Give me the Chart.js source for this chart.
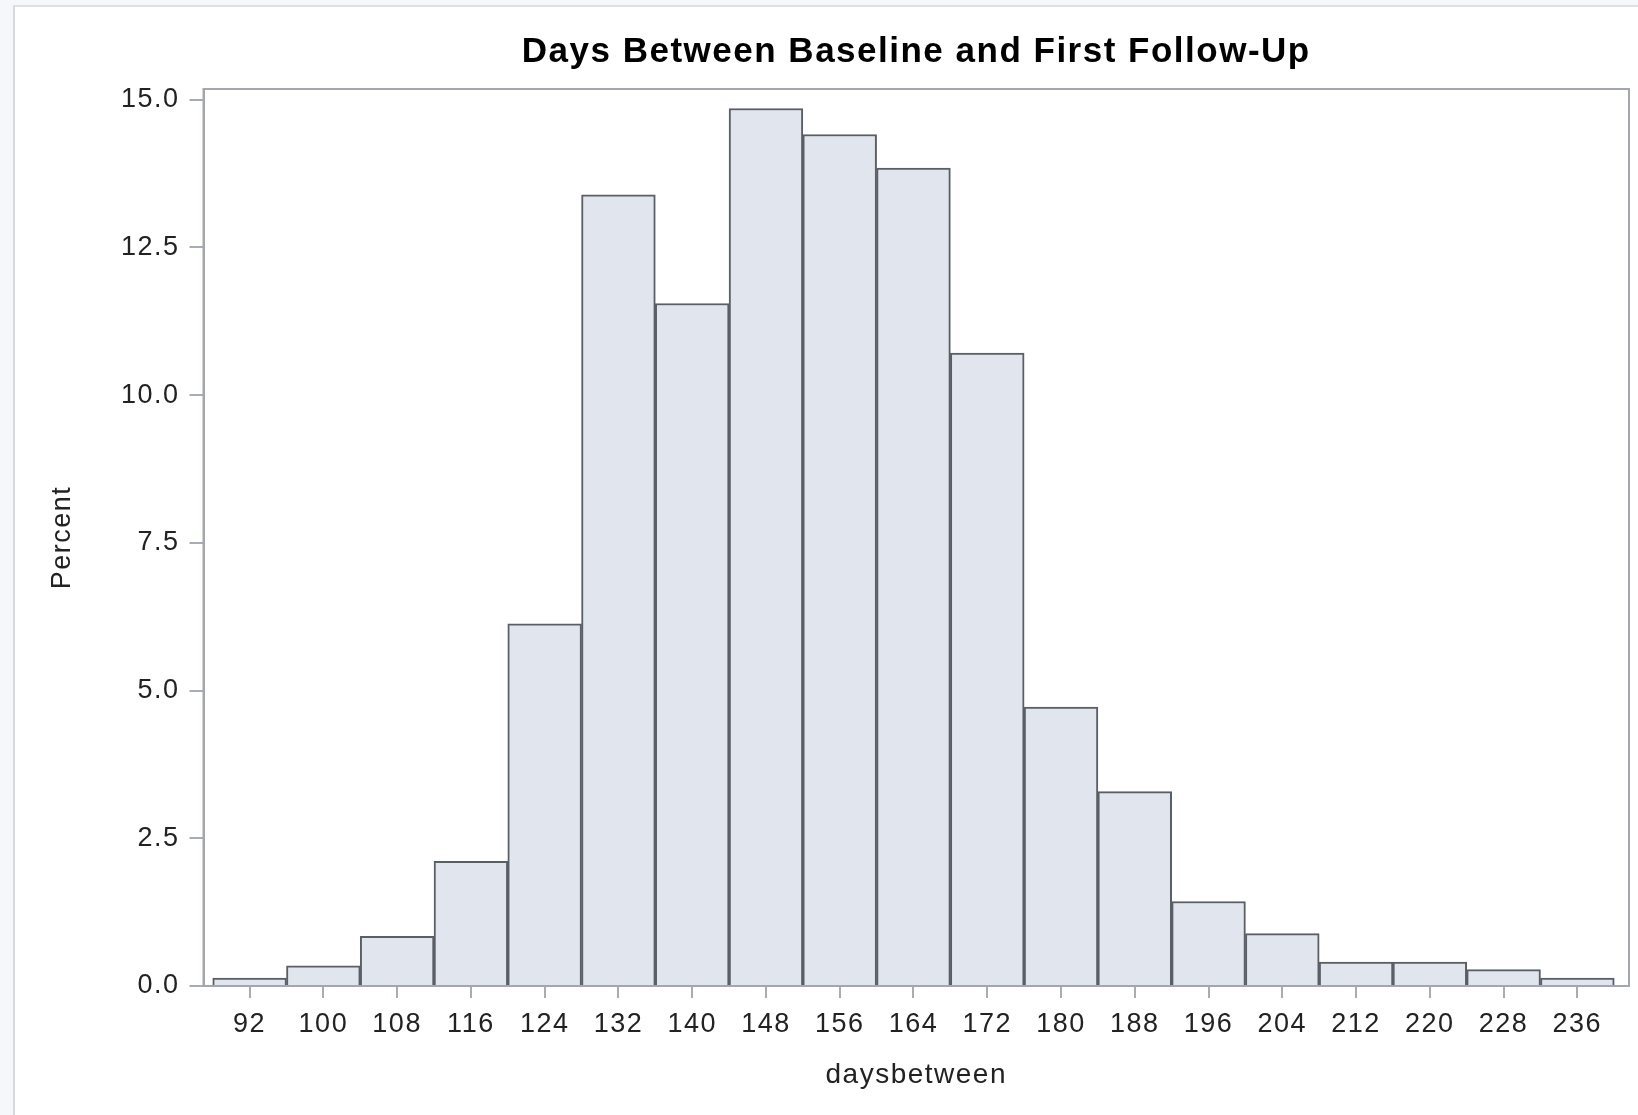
<!DOCTYPE html>
<html>
<head>
<meta charset="utf-8">
<script src="https://cdn.jsdelivr.net/npm/chart.js@4/dist/chart.umd.min.js"></script>
<style>
  html, body { margin: 0; padding: 0; background: #f5f7fb; overflow: hidden; }
  #frame { position: absolute; left: 13px; top: 5px; width: 1700px; height: 1200px;
           background: #ffffff; border-left: 2px solid #d6d9df; border-top: 2px solid #dde0e6; }
  #c { position: absolute; left: 0; top: 0; }
</style>
</head>
<body>
<div id="frame"></div>
<canvas id="c" width="1638" height="1115"></canvas>
<script>
// ---- data ----
const binCenters = [92, 100, 108, 116, 124, 132, 140, 148, 156, 164, 172, 180, 188, 196, 204, 212, 220, 228, 236];
const percentValues = [0.135, 0.34, 0.84, 2.11, 6.13, 13.39, 11.55, 14.85, 14.41, 13.84, 10.71, 4.72, 3.29, 1.43, 0.885, 0.405, 0.405, 0.277, 0.135];
const xTickValues = [92, 100, 108, 116, 124, 132, 140, 148, 156, 164, 172, 180, 188, 196, 204, 212, 220, 228, 236];
const yTickValues = [0, 2.5, 5, 7.5, 10, 12.5, 15];
const chartTitle = 'Days Between Baseline and First Follow-Up';
const xTitle = 'daysbetween';
const yTitle = 'Percent';

const points = binCenters.map((x, i) => ({ x: x, y: percentValues[i] }));

const FONT = "'Liberation Sans', Arial, Helvetica, sans-serif";
const SPACING = '1.5px';

const spacingPlugin = {
  id: 'spacing',
  beforeUpdate(c) { c.ctx.letterSpacing = SPACING; },
  beforeLayout(c) { c.ctx.letterSpacing = SPACING; },
  beforeDraw(c) { c.ctx.letterSpacing = SPACING; }
};

const frameBorder = {
  id: 'frameBorder',
  afterDraw(c) {
    const a = c.chartArea, ctx = c.ctx;
    ctx.save();
    ctx.strokeStyle = '#a3a7ad';
    ctx.lineWidth = 2;
    ctx.strokeRect(a.left, a.top, a.right - a.left, a.bottom - a.top);
    ctx.restore();
  }
};

new Chart(document.getElementById('c'), {
  type: 'bar',
  data: {
    datasets: [{
      data: points,
      backgroundColor: '#e1e5ee',
      borderColor: '#5a5e65',
      borderWidth: 2,
      barPercentage: 1.0,
      categoryPercentage: 1.0
    }]
  },
  plugins: [spacingPlugin, frameBorder],
  options: {
    responsive: false,
    devicePixelRatio: 1,
    animation: false,
    layout: { padding: { left: 0, right: 9, top: 0, bottom: 0 } },
    plugins: {
      legend: { display: false },
      tooltip: { enabled: false },
      title: {
        display: true,
        text: chartTitle,
        fullSize: false,
        color: '#000000',
        font: { family: FONT, size: 35, weight: 'bold', lineHeight: 1.2 },
        padding: { top: 31.5, bottom: 15.5 }
      }
    },
    scales: {
      x: {
        type: 'linear',
        min: 87,
        max: 241.6,
        offset: false,
        afterBuildTicks(scale) { scale.ticks = xTickValues.map(v => ({ value: v })); },
        afterFit(scale) { scale.height = 129; },
        grid: { offset: false, drawOnChartArea: false, drawTicks: true, tickLength: 12, color: '#a9adb3', lineWidth: 2 },
        border: { display: true, color: '#a3a7ad', width: 2 },
        ticks: {
          autoSkip: false, maxRotation: 0, padding: 10, color: '#222222',
          font: { family: FONT, size: 27 },
          callback: v => String(v)
        },
        title: {
          display: true, text: xTitle, color: '#222222',
          font: { family: FONT, size: 28, lineHeight: 1.2 },
          padding: { top: 0, bottom: 23 }
        }
      },
      y: {
        type: 'linear',
        min: 0,
        max: 15.18,
        afterBuildTicks(scale) { scale.ticks = yTickValues.map(v => ({ value: v })); },
        afterFit(scale) { scale.width = 203.5; },
        grid: { drawOnChartArea: false, drawTicks: true, tickLength: 14, color: '#a9adb3', lineWidth: 2 },
        border: { display: true, color: '#a3a7ad', width: 2 },
        ticks: {
          padding: 10, color: '#222222',
          font: { family: FONT, size: 27 },
          callback: v => Number(v).toFixed(1)
        },
        title: {
          display: true, text: yTitle, color: '#222222',
          font: { family: FONT, size: 27, lineHeight: 1.2 },
          padding: { top: 46.5, bottom: 0 }
        }
      }
    }
  }
});
</script>
</body>
</html>
